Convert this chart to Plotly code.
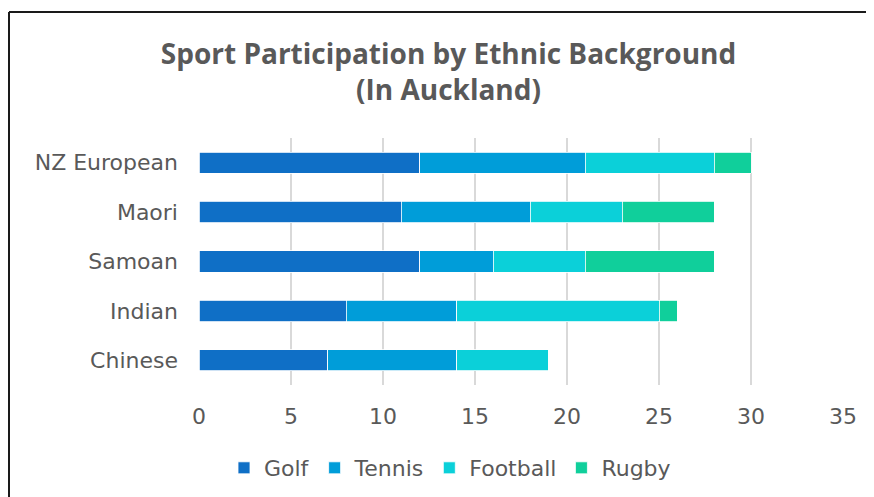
import plotly.graph_objects as go

categories = ["NZ European", "Maori", "Samoan", "Indian", "Chinese"]
golf = [12, 11, 12, 8, 7]
tennis = [9, 7, 4, 6, 7]
football = [7, 5, 5, 11, 5]
rugby = [2, 5, 7, 1, 0]
x_ticks = [0, 5, 10, 15, 20, 25, 30, 35]

series = [
    ("Golf", golf, "#0F6FC6"),
    ("Tennis", tennis, "#009DD9"),
    ("Football", football, "#0BD0D9"),
    ("Rugby", rugby, "#10CF9B"),
]

FONT = "DejaVu Sans"
TFONT = "Open Sans"
TXT = "#595959"

fig = go.Figure()
for name, vals, col in series:
    fig.add_trace(go.Bar(
        y=categories, x=vals, name=name, orientation="h",
        marker=dict(color=col, line=dict(color="white", width=0.8)),
    ))

# the page body adds an 8px offset; work in screen pixels and subtract it
OFF = 8
W, H = 874 - OFF, 497 - OFF
L, R, T, B = 199 - OFF, 31, 138 - OFF, 112
pw, ph = W - L - R, H - T - B

def px_x(p):
    return (p - OFF - L) / pw

def px_y(p):
    return (H - B - (p - OFF)) / ph

border = dict(color="#1a1a1a", width=2)

fig.update_layout(
    width=W, height=H,
    barmode="stack", bargap=0.57,
    margin=dict(l=L, r=R, t=T, b=B, autoexpand=False),
    paper_bgcolor="white", plot_bgcolor="white",
    font=dict(family=FONT, color=TXT, size=22),
    title=dict(
        text="<b>Sport Participation by Ethnic Background<br>(In Auckland)</b>",
        x=(448.5 - OFF) / W, xanchor="center", xref="container",
        y=1 - (64 - OFF) / H, yanchor="middle", yref="container",
        font=dict(family=TFONT, size=28, color=TXT),
    ),
    xaxis=dict(
        range=[0, 35], tickvals=x_ticks, showgrid=True,
        gridcolor="#D9D9D9", gridwidth=1.5, zeroline=False,
        showline=False, ticks="", ticklabelstandoff=16,
        tickfont=dict(size=22, color=TXT),
    ),
    yaxis=dict(
        autorange="reversed", showgrid=False, showline=False,
        ticks="", ticklabelstandoff=20,
        tickfont=dict(size=22, color=TXT),
    ),
    legend=dict(
        orientation="h", x=px_x(450), xanchor="center", xref="paper",
        y=px_y(468), yanchor="middle",
        font=dict(size=22, color=TXT), traceorder="normal",
        itemwidth=30,
    ),
    shapes=[
        dict(type="line", xref="paper", yref="paper",
             x0=px_x(9), x1=px_x(9), y0=px_y(12), y1=px_y(900),
             line=border, layer="above"),
        dict(type="line", xref="paper", yref="paper",
             x0=px_x(9), x1=px_x(1500), y0=px_y(12), y1=px_y(12),
             line=border, layer="above"),
    ],
)

fig.write_html("out.html")
